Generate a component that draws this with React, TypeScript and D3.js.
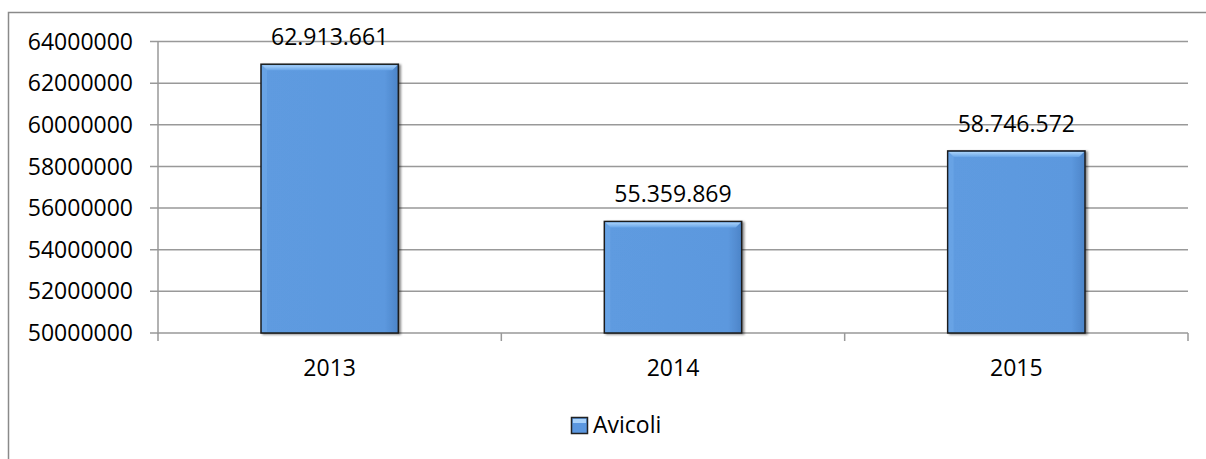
import React from "react";
import * as d3 from "d3";

const categories = ["2013", "2014", "2015"];
const values = [62913661, 55359869, 58746572];
const seriesName = "Avicoli";
const yTicks = [50000000, 52000000, 54000000, 56000000, 58000000, 60000000, 62000000, 64000000];

const W = 1206;
const H = 459;
const left = 158;
const right = 1188;
const top = 41.6;
const bottom = 333;
const FONT = "'Open Sans', sans-serif";

const itFmt = (v: number) => d3.format(",")(v).replace(/,/g, ".");

export default function App() {
  const x = d3.scaleBand<string>().domain(categories).range([left, right]).paddingInner(0.6).paddingOuter(0.3);
  const y = d3.scaleLinear().domain([50000000, 64000000]).range([bottom, top]);
  const step = x.step();
  const bw = x.bandwidth();
  const boundaries = d3.range(categories.length + 1).map((i) => left + i * step);

  return (
    <svg width={W} height={H} style={{ position: "absolute", left: 0, top: 0, background: "#fff" }}>
      <defs>
        <linearGradient id="barTop" x1="0" y1="0" x2="0" y2="1">
          <stop offset="0" stopColor="#a9d2fa" />
          <stop offset="1" stopColor="#6aa6e8" />
        </linearGradient>
        <linearGradient id="barBody" x1="0" y1="0" x2="1" y2="0">
          <stop offset="0" stopColor="#5e9be0" />
          <stop offset="0.9" stopColor="#5c98de" />
          <stop offset="1" stopColor="#4c84c8" />
        </linearGradient>
        <filter id="shadow" x="-10%" y="-10%" width="130%" height="130%">
          <feDropShadow dx="2" dy="1" stdDeviation="1.2" floodColor="#000" floodOpacity="0.45" />
        </filter>
      </defs>
      {/* outer border */}
      <path d={`M8.5,${H} L8.5,12.5 L${W},12.5`} fill="none" stroke="#8a8a8a" strokeWidth={1.5} />
      {/* gridlines */}
      {yTicks.map((t) => (
        <line key={t} x1={left - 8} x2={right} y1={y(t)} y2={y(t)} stroke="#999" strokeWidth={1.5} />
      ))}
      {/* y axis */}
      <line x1={left} x2={left} y1={top} y2={bottom + 1} stroke="#999" strokeWidth={1.5} />
      {/* x category ticks */}
      {boundaries.map((b, i) => (
        <line key={i} x1={b} x2={b} y1={bottom} y2={bottom + 8} stroke="#999" strokeWidth={1.5} />
      ))}
      {/* y tick labels */}
      {yTicks.map((t) => (
        <text key={t} x={133} y={y(t)} dy="0.35em" textAnchor="end" fontFamily={FONT} fontSize={23} fill="#000">
          {t}
        </text>
      ))}
      {/* bars */}
      {categories.map((c, i) => {
        const bx = x(c)!;
        const by = y(values[i]);
        const bh = bottom - by;
        return (
          <g key={c}>
            <rect x={bx} y={by} width={bw} height={bh} fill="url(#barBody)" stroke="#1c1c1c" strokeWidth={1.5} filter="url(#shadow)" />
            <polygon
              points={`${bx + 1},${by + 1} ${bx + bw - 1},${by + 1} ${bx + bw - 6},${by + 6} ${bx + 6},${by + 6}`}
              fill="url(#barTop)"
            />
            <polygon
              points={`${bx + 1},${by + 1} ${bx + 6},${by + 6} ${bx + 6},${bottom - 1} ${bx + 1},${bottom - 1}`}
              fill="#6ea8e8"
              opacity={0.6}
            />
            <text x={bx + bw / 2} y={by - 19} textAnchor="middle" fontFamily={FONT} fontSize={23} fill="#000">
              {itFmt(values[i])}
            </text>
          </g>
        );
      })}
      {/* x labels */}
      {categories.map((c) => (
        <text key={c} x={x(c)! + bw / 2} y={376} textAnchor="middle" fontFamily={FONT} fontSize={23} fill="#000">
          {c}
        </text>
      ))}
      {/* legend */}
      <g>
        <rect x={571.5} y={417.5} width={16} height={16} fill="#5b97df" stroke="#222" strokeWidth={1.5} />
        <rect x={573} y={419} width={13} height={4} fill="#a9d2fa" />
        <text x={593} y={433} fontFamily={FONT} fontSize={23} fill="#000">
          {seriesName}
        </text>
      </g>
    </svg>
  );
}
